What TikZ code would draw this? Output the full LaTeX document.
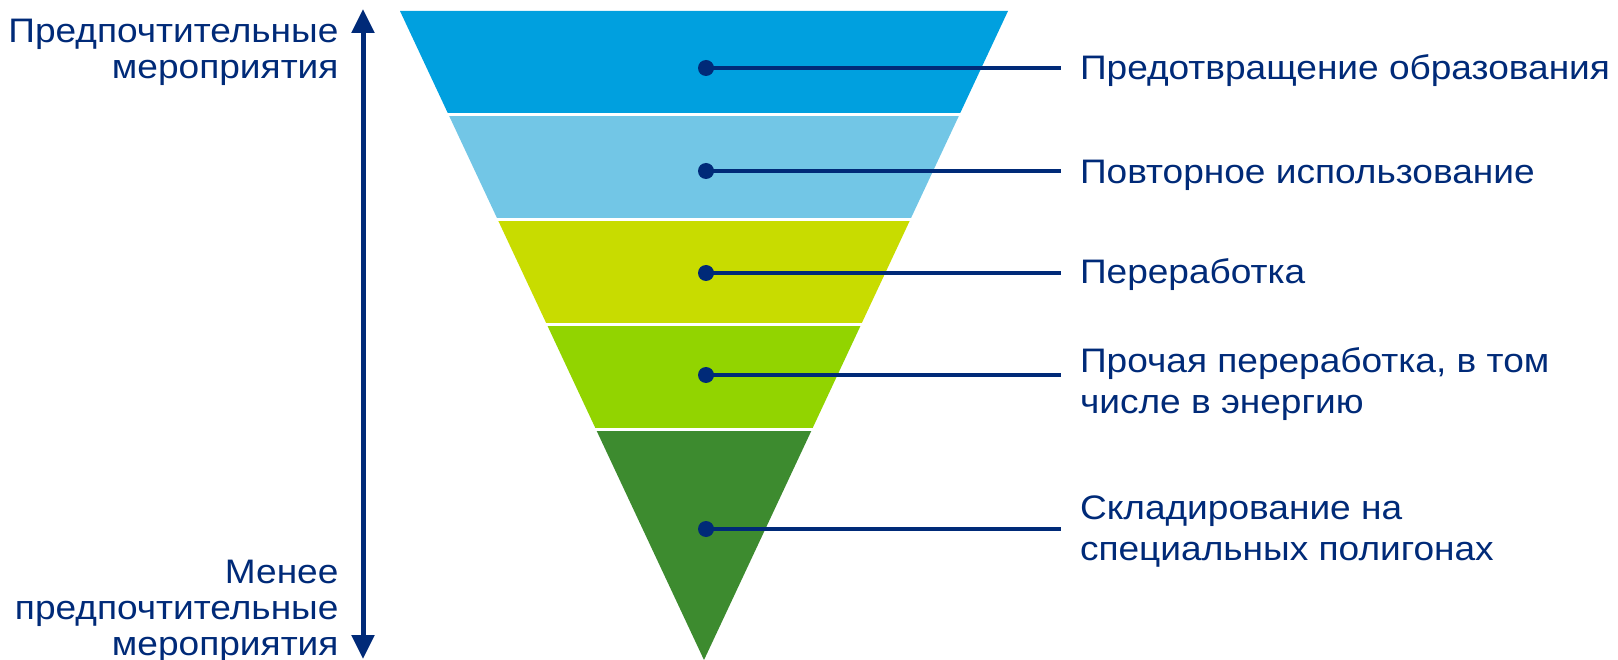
\documentclass[tikz,border=0pt]{standalone}
\usepackage{fontspec}
\setmainfont[FakeStretch=1.09]{Liberation Sans}
\usetikzlibrary{arrows.meta}

\definecolor{navy}{RGB}{0,42,120}
\definecolor{bandA}{RGB}{0,160,223}
\definecolor{bandB}{RGB}{114,198,230}
\definecolor{bandC}{RGB}{200,220,0}
\definecolor{bandD}{RGB}{146,212,0}
\definecolor{bandE}{RGB}{61,139,47}

\tikzset{
    gap/.style={white, line width=3pt},
    dot/.style={circle, fill=navy, inner sep=0pt, minimum size=16pt},
    leader/.style={navy, line width=3.5pt},
    label/.style={anchor=west, align=left, inner sep=0pt, outer xsep=19pt, text=navy, font=\fontsize{34}{41}\selectfont},
    side/.style={anchor=east, align=right, text=navy, font=\fontsize{34}{36}\selectfont}
}

\begin{document}
\begin{tikzpicture}[x=1pt, y=-1pt]
    \useasboundingbox (0,0) rectangle (1618,660);

    % funnel bands, top to bottom
    \fill[bandA] (400,11) -- (1008,11) -- (959.3,115) -- (448.7,115) -- cycle;
    \fill[bandB] (448.7,115) -- (959.3,115) -- (910.1,220) -- (497.9,220) -- cycle;
    \fill[bandC] (497.9,220) -- (910.1,220) -- (860.9,325) -- (547.1,325) -- cycle;
    \fill[bandD] (547.1,325) -- (860.9,325) -- (812.2,429) -- (595.8,429) -- cycle;
    \fill[bandE] (595.8,429) -- (812.2,429) -- (704,660) -- cycle;
    % white gaps between the bands
    \foreach \y in {115,220,325,429}
        \draw[gap] (420,\y) -- (990,\y);

    % dots on the bands
    \node[dot] (d1) at (706,68) {};
    \node[dot] (d2) at (706,171) {};
    \node[dot] (d3) at (706,273) {};
    \node[dot] (d4) at (706,375) {};
    \node[dot] (d5) at (706,529) {};

    % labels on the right
    \node[label] (l1) at (1061,71) {Предотвращение образования};
    \node[label] (l2) at (1061,175) {Повторное использование};
    \node[label] (l3) at (1061,275) {Переработка};
    \node[label] (l4) at (1061,384) {Прочая переработка, в том\\числе в энергию};
    \node[label] (l5) at (1061,532) {Складирование на\\специальных полигонах};

    \foreach \i in {1,...,5}
        \draw[leader] (d\i.center) -- (d\i.center -| l\i.west);

    % preference scale
    \coordinate (top) at (363,9);
    \coordinate (bot) at (363,659);
    \draw[navy, line width=5pt, {Triangle[length=24pt,width=22pt]}-{Triangle[length=24pt,width=22pt]}] (top) -- (bot);
    \node[side] (more) at (342,52) {Предпочтительные\\мероприятия};
    \node[side] (less) at (342,611) {Менее\\предпочтительные\\мероприятия};
\end{tikzpicture}
\end{document}
